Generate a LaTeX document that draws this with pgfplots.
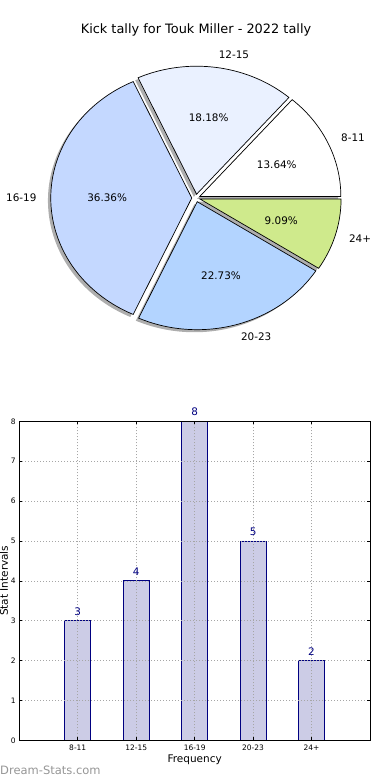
\documentclass[border=0pt]{standalone}
\usepackage{fontspec}
\setmainfont{DejaVu Sans}
\usepackage{pgfplots}
\pgfplotsset{compat=1.18}
\definecolor{c1}{rgb}{1,1,1}
\definecolor{c2}{RGB}{234,241,255}
\definecolor{c3}{RGB}{196,216,255}
\definecolor{c4}{RGB}{179,212,255}
\definecolor{c5}{RGB}{207,234,140}
\definecolor{barfill}{RGB}{204,204,230}
\definecolor{navy}{RGB}{0,0,128}
\definecolor{wm}{RGB}{150,150,150}
\newcommand{\lblfont}{\fontsize{10.4}{12}\selectfont}
% slice: start angle, end angle, centre x, centre y, style
\newcommand{\pieslice}[5]{%
  \addplot[#5, domain=#1:#2, samples=80, forget plot]
    ({#3+cos(x)},{#4+sin(x)}) -- (#3,#4) -- cycle;}
\begin{document}
\begin{tikzpicture}
\useasboundingbox (0,0) rectangle (390pt,-780pt);
% ---------------- pie ----------------
\begin{axis}[at={(196pt,-198pt)}, anchor=center, x=141pt, y=128pt,
  xmin=-1.5, xmax=1.5, ymin=-1.5, ymax=1.5, hide axis, clip=false]
% counts 3,4,8,5,2 of 22 -> angles 0, 49.0909, 114.5455, 245.4545, 327.2727, 360
% shadows (offset -0.02,-0.02)
\pieslice{0}{49.0909}{0.00729}{-0.00754}{draw=none, fill=black!70, fill opacity=0.45}
\pieslice{49.0909}{114.5455}{-0.01573}{0.00969}{draw=none, fill=black!70, fill opacity=0.45}
\pieslice{114.5455}{245.4545}{-0.05}{-0.02}{draw=none, fill=black!70, fill opacity=0.45}
\pieslice{245.4545}{327.2727}{-0.01155}{-0.04878}{draw=none, fill=black!70, fill opacity=0.45}
\pieslice{327.2727}{360}{0.00878}{-0.02845}{draw=none, fill=black!70, fill opacity=0.45}
% slices (explode 0.03)
\pieslice{0}{49.0909}{0.02729}{0.01246}{draw=black, line width=0.7pt, fill=c1}
\pieslice{49.0909}{114.5455}{0.00427}{0.02969}{draw=black, line width=0.7pt, fill=c2}
\pieslice{114.5455}{245.4545}{-0.03}{0}{draw=black, line width=0.7pt, fill=c3}
\pieslice{245.4545}{327.2727}{0.00845}{-0.02878}{draw=black, line width=0.7pt, fill=c4}
\pieslice{327.2727}{360}{0.02878}{-0.00845}{draw=black, line width=0.7pt, fill=c5}
% labels
\node[font=\lblfont, anchor=west, inner sep=0pt] at (axis cs:1.0279,0.4694) {8-11};
\node[font=\lblfont, anchor=west, inner sep=0pt] at (axis cs:0.1608,1.1185) {12-15};
\node[font=\lblfont, anchor=east, inner sep=0pt] at (axis cs:-1.13,0) {16-19};
\node[font=\lblfont, anchor=west, inner sep=0pt] at (axis cs:0.3184,-1.0842) {20-23};
\node[font=\lblfont, anchor=west, inner sep=0pt] at (axis cs:1.0842,-0.3184) {24+};
\node[font=\lblfont] at (axis cs:0.5731,0.2617) {13.64\%};
\node[font=\lblfont] at (axis cs:0.0897,0.6236) {18.18\%};
\node[font=\lblfont] at (axis cs:-0.63,0) {36.36\%};
\node[font=\lblfont] at (axis cs:0.1775,-0.6045) {22.73\%};
\node[font=\lblfont] at (axis cs:0.6045,-0.1775) {9.09\%};
\node[font=\fontsize{12.9}{15}\selectfont] at (axis cs:0,1.3125) {Kick tally for Touk Miller - 2022 tally};
\end{axis}
% ---------------- bars ----------------
\begin{axis}[at={(19.3pt,-740.3pt)}, anchor=south west, scale only axis,
  width=350.7pt, height=319pt,
  xmin=-1, xmax=5, ymin=0, ymax=8,
  xtick={0,1,2,3,4}, xticklabels={8-11,12-15,16-19,20-23,24+},
  ytick={0,1,2,3,4,5,6,7,8},
  /pgf/number format/assume math mode=true,
  tick label style={font=\fontsize{7.5}{9}\selectfont},
  xticklabel style={yshift=-1.5pt},
  grid=major, major grid style={gray!70, dash pattern=on 1pt off 2pt, line width=0.6pt},
  axis on top, tick style={black, line width=0.6pt}, major tick length=3pt,
  axis line style={line width=0.8pt},
  xlabel={Frequency}, ylabel={Stat Intervals},
  label style={font=\fontsize{10.5}{12}\selectfont},
  xlabel style={at={(axis description cs:0.5,-0.0618)}, anchor=center},
  ylabel style={at={(axis description cs:-0.0436,0.5)}, anchor=center},
  clip=false]
\addplot[ybar, bar width=0.44, fill=barfill, draw=navy, line width=0.8pt,
  nodes near coords, nodes near coords style={text=navy, font=\lblfont, yshift=1.5pt}]
  coordinates {(0,3) (1,4) (2,8) (3,5) (4,2)};
\end{axis}
\node[anchor=west, inner sep=0pt, text=wm, font=\fontsize{11.5}{13}\selectfont] at (0pt,-770pt) {Dream-Stats.com};
\end{tikzpicture}
\end{document}
